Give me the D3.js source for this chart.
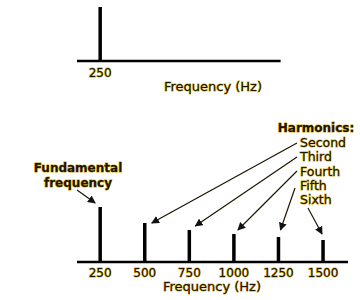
<!DOCTYPE html>
<html><head><meta charset="utf-8">
<script src="https://cdn.jsdelivr.net/npm/d3@7"></script>
<style>
body{margin:0;background:#fff}
text{font-family:"DejaVu Sans",Verdana,sans-serif;font-size:12px;fill:#1c1600;stroke:#d4a200;stroke-width:0.9px;paint-order:stroke}
</style></head><body>
<svg id="c" width="360" height="300"></svg>
<script>
const topFreqs = [250];
const topAmps = [54];
const freqs = [250, 500, 750, 1000, 1250, 1500];
const amps = [55, 39, 32, 28, 25, 22];
const tickLabels = ["250", "500", "750", "1000", "1250", "1500"];
const harmonicNames = ["Second", "Third", "Fourth", "Fifth", "Sixth"];
const axisTitle = "Frequency (Hz)";

const svg = d3.select("#c");
const x = d3.scaleLinear().domain([120, 1640]).range([77, 348]);
const yTop = d3.scaleLinear().domain([0, 54]).range([61, 7]);
const yBot = d3.scaleLinear().domain([0, 55]).range([262, 207]);

svg.append("defs").append("marker").attr("id","ah").attr("viewBox","0 0 10 10")
  .attr("refX",9).attr("refY",5).attr("markerWidth",8).attr("markerHeight",8)
  .attr("markerUnits","userSpaceOnUse").attr("orient","auto")
  .append("path").attr("d","M0,0L10,5L0,10z").attr("fill","#111");

// top panel
svg.append("line").attr("x1",x(120)).attr("x2",x(1262)).attr("y1",yTop(0)).attr("y2",yTop(0))
  .attr("stroke","#000").attr("stroke-width",2.5);
svg.selectAll(".tb").data(topFreqs).join("line")
  .attr("x1",d=>x(d)).attr("x2",d=>x(d)).attr("y1",yTop(0)).attr("y2",(d,i)=>yTop(topAmps[i]))
  .attr("stroke","#000").attr("stroke-width",3.5);
svg.selectAll(".tl").data(topFreqs).join("text")
  .attr("x",d=>x(d)).attr("y",yTop(0)+16).attr("text-anchor","middle").text(d=>d);
svg.append("text").attr("x",213).attr("y",91).attr("text-anchor","middle").style("font-size","13px").text(axisTitle);

// bottom panel
svg.append("line").attr("x1",x(120)).attr("x2",x(1640)).attr("y1",yBot(0)).attr("y2",yBot(0))
  .attr("stroke","#000").attr("stroke-width",2.5);
svg.selectAll(".bb").data(freqs).join("line")
  .attr("x1",d=>x(d)).attr("x2",d=>x(d)).attr("y1",yBot(0)).attr("y2",(d,i)=>yBot(amps[i]))
  .attr("stroke","#000").attr("stroke-width",3.5);
svg.selectAll(".bl").data(tickLabels).join("text")
  .attr("x",(d,i)=>x(freqs[i])).attr("y",yBot(0)+15).attr("text-anchor","middle").text(d=>d);
svg.append("text").attr("x",212).attr("y",291).attr("text-anchor","middle").style("font-size","13px").text(axisTitle);

// annotations
svg.append("text").attr("x",316).attr("y",132).attr("text-anchor","middle")
  .style("font-weight","bold").text("Harmonics:");
const labelY = [147, 161, 176, 190, 204];
svg.selectAll(".hn").data(harmonicNames).join("text")
  .attr("x",300).attr("y",(d,i)=>labelY[i]).style("font-size","12.5px").text(d=>d);
svg.append("text").attr("x",78).attr("y",172).attr("text-anchor","middle").style("font-weight","bold").text("Fundamental");
svg.append("text").attr("x",78).attr("y",187).attr("text-anchor","middle").style("font-weight","bold").text("frequency");

const starts = [[297,143],[297,157],[297,171],[295,188],[308,208]];
const offs = [[7,0],[6,-4],[4,-4],[2,-7],[-1,-6]];
const arrows = starts.map((s,i)=>({x1:s[0],y1:s[1],x2:x(freqs[i+1])+offs[i][0],y2:yBot(amps[i+1])+offs[i][1]}));
arrows.push({x1:77,y1:190,x2:x(freqs[0])-5,y2:yBot(amps[0])-4});
svg.selectAll(".ar").data(arrows).join("line")
  .attr("x1",d=>d.x1).attr("y1",d=>d.y1).attr("x2",d=>d.x2).attr("y2",d=>d.y2)
  .attr("stroke","#1c1600").attr("stroke-width",1.2).attr("marker-end","url(#ah)");
</script></body></html>
